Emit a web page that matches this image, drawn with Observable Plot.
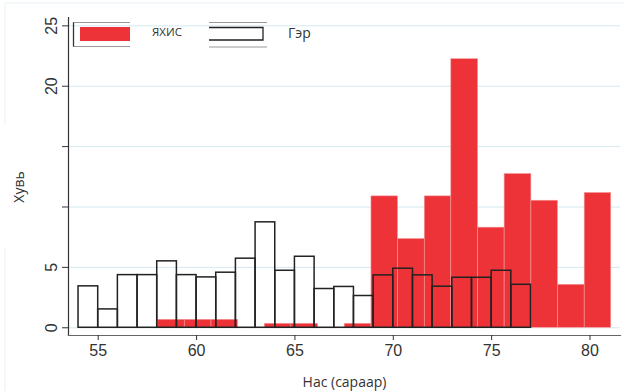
<!DOCTYPE html>
<html>
<head>
<meta charset="utf-8">
<script src="https://cdn.jsdelivr.net/npm/d3@7"></script>
<script src="https://cdn.jsdelivr.net/npm/@observablehq/plot@0.6"></script>
<style>
  html, body { margin: 0; padding: 0; background: #fff; }
  #wrap { position: relative; width: 624px; height: 391px; }
  #wrap svg { position: absolute; left: 0; top: 0; }
</style>
</head>
<body>
<div id="wrap"></div>
<script>
// ЯХИС series: bin edges (years) and percentages
const yahisBinStart = [58.05, 59.40, 60.76, 62.11, 63.47, 64.82, 66.18, 67.53, 68.89, 70.24, 71.60, 72.95, 74.31, 75.66, 77.02, 78.37, 79.73];
const yahisBinEnd   = [59.40, 60.76, 62.11, 63.47, 64.82, 66.18, 67.53, 68.89, 70.24, 71.60, 72.95, 74.31, 75.66, 77.02, 78.37, 79.73, 81.08];
const yahisValues   = [0.66, 0.66, 0.66, 0, 0.33, 0.33, 0, 0.33, 10.88, 7.35, 10.88, 22.24, 8.29, 12.73, 10.52, 3.56, 11.16];

// Гэр series: one-year bins
const gerBinStart = [54, 55, 56, 57, 58, 59, 60, 61, 62, 63, 64, 65, 66, 67, 68, 69, 70, 71, 72, 73, 74, 75, 76];
const gerBinEnd   = [55, 56, 57, 58, 59, 60, 61, 62, 63, 64, 65, 66, 67, 68, 69, 70, 71, 72, 73, 74, 75, 76, 77];
const gerValues   = [3.43, 1.52, 4.36, 4.36, 5.5, 4.36, 4.17, 4.56, 5.72, 8.73, 4.72, 5.88, 3.21, 3.38, 2.63, 4.34, 4.89, 4.34, 3.4, 4.14, 4.14, 4.72, 3.56];

const xTicks = [55, 60, 65, 70, 75, 80];
const yTicks = [0, 5, 10, 15, 20, 25];
const yTickLabels = [0, 5, 20, 25];
const seriesNames = ["ЯХИС", "Гэр"];
const xTitle = "Нас (сараар)";
const yTitle = "Хувь";

const yahis = yahisValues.map((v, i) => ({x1: yahisBinStart[i], x2: yahisBinEnd[i], y: v}));
const ger = gerValues.map((v, i) => ({x1: gerBinStart[i], x2: gerBinEnd[i], y: v}));

const RED = "#ee3338";

const chart = Plot.plot({
  width: 624,
  height: 391,
  marginLeft: 68,
  marginRight: 4,
  marginTop: 17,
  marginBottom: 56,
  style: {fontFamily: "'Liberation Sans', Arial, sans-serif", color: "#333", background: "transparent"},
  x: {domain: [53.49, 81.55]},
  y: {domain: [-0.64, 25.69]},
  marks: [
    Plot.gridY(yTicks, {stroke: "#d3e9ef", strokeOpacity: 1, strokeWidth: 1}),
    Plot.rectY(yahis, {x1: "x1", x2: "x2", y: "y", fill: RED, stroke: "#f39a9c", strokeWidth: 0.6}),
    Plot.rectY(ger, {x1: "x1", x2: "x2", y: "y", fill: "none", stroke: "#222", strokeWidth: 1.5}),
    Plot.frame({anchor: "left", stroke: "#333", strokeWidth: 1.2}),
    Plot.frame({anchor: "bottom", stroke: "#666", strokeWidth: 1.2}),
    Plot.axisX({ticks: xTicks, tickSize: 5, tickPadding: 4, fontSize: 16, stroke: "#333",
      label: xTitle, labelArrow: "none", labelAnchor: "center", labelOffset: 51, fontFamily: "'Liberation Sans', Arial, sans-serif"}),
    Plot.axisY({ticks: yTicks, tickSize: 6, tickPadding: 6, tickRotate: -90, fontSize: 16, stroke: "#333",
      tickFormat: d => yTickLabels.includes(d) ? String(d) : "",
      label: null})
  ]
});
document.getElementById("wrap").appendChild(chart);

// style axis title fonts
chart.querySelectorAll("[aria-label='x-axis label'] text").forEach(t => {
  t.setAttribute("font-family", "'Open Sans', sans-serif");
  t.setAttribute("font-size", "14");
});

// overlay: y title + legend
const ns = "http://www.w3.org/2000/svg";
const ov = document.createElementNS(ns, "svg");
ov.setAttribute("width", 624); ov.setAttribute("height", 391);
ov.style.pointerEvents = "none";
function el(name, attrs, text) {
  const e = document.createElementNS(ns, name);
  for (const k in attrs) e.setAttribute(k, attrs[k]);
  if (text != null) e.textContent = text;
  ov.appendChild(e);
  return e;
}
// faint outer border
el("path", {d: "M5,125 V3 H624", fill: "none", stroke: "#e6f1f4", "stroke-width": 1});
el("path", {d: "M5,391 V248", fill: "none", stroke: "#e6f1f4", "stroke-width": 1});
// y title
el("text", {x: 0, y: 0, transform: "translate(24,187) rotate(-90)", "text-anchor": "middle",
  "font-family": "'Open Sans', sans-serif", "font-size": 14, fill: "#333"}, yTitle);
// legend key 1
el("path", {d: "M130,22.5 H73.5 V46.5 H130", fill: "none", stroke: "#999", "stroke-width": 1.2});
el("path", {d: "M73.5,22.5 V46.5", fill: "none", stroke: "#333", "stroke-width": 1.2});
el("rect", {x: 80, y: 27, width: 50, height: 14, fill: RED});
el("text", {x: 152, y: 36, "font-family": "'Open Sans', sans-serif", "font-size": 11.5, fill: "#333"}, seriesNames[0]);
// legend key 2
el("path", {d: "M209,22.5 H267 M209,47 H267", fill: "none", stroke: "#999", "stroke-width": 1.2});
el("path", {d: "M209,27.5 H263 V40 H209", fill: "none", stroke: "#222", "stroke-width": 1.3});
el("text", {x: 288, y: 38, "font-family": "'Open Sans', sans-serif", "font-size": 14, fill: "#333"}, seriesNames[1]);
document.getElementById("wrap").appendChild(ov);
</script>
</body>
</html>
